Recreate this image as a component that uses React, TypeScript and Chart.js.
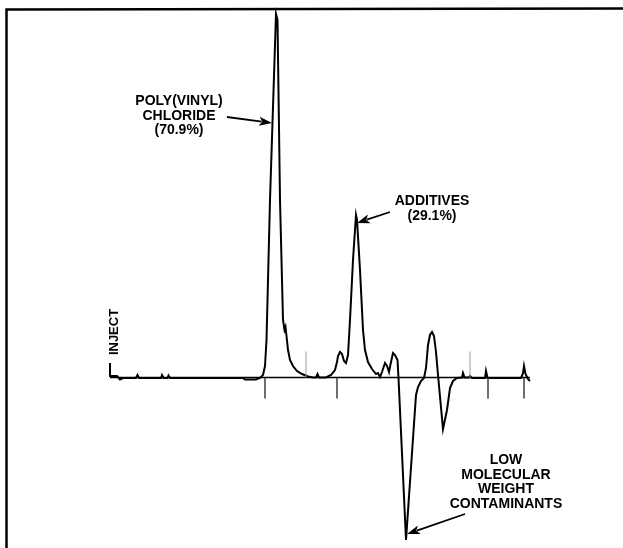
import React, { useEffect, useRef } from "react";
import { Chart, registerables } from "chart.js";

Chart.register(...registerables);

// Retention (arbitrary units, inject = 0) and detector response (arbitrary units, baseline = 0)
const traceTime = [
  0, 0, 7, 10, 13, 26, 27.5, 29, 51, 52, 53.5, 57.5, 58.5, 60, 133, 135, 146, 150, 153, 155, 156.5, 160,
  166, 167.5, 170, 173, 174.5, 175.5, 176.5, 178, 180, 183, 187, 192, 198, 203, 206, 207.5, 209, 216,
  221, 225, 227, 228, 230, 232, 234, 236, 238, 240, 243, 246, 247, 250, 253, 255, 258, 262, 266, 268,
  270, 272, 275, 277, 279, 281, 283, 285, 287.5, 288.5, 296, 306, 308, 311, 314, 316, 318, 320, 322,
  324, 326, 328, 333, 337, 340, 343, 347, 352, 353, 354.5, 359, 360, 362, 375, 376, 377.5, 411, 413,
  414, 415.5, 418, 420,
];
const traceResponse = [
  14.5, 1.5, 1.5, -2, -0.5, -0.5, 2.5, -0.5, -0.5, 2.5, -0.5, -0.5, 2, -0.5, -0.5, -2, -2, -0.5, 2.5,
  11.5, 37.5, 177.5, 363.5, 357.5, 177.5, 57.5, 47.5, 50.5, 41.5, 27.5, 17.5, 11.5, 6.5, 3.5, 1, 0, 0,
  3.5, 0, 0, 2.5, 7.5, 15.5, 21.5, 25.5, 23.5, 16.5, 14.5, 22.5, 57.5, 117.5, 162.5, 157.5, 107.5, 47.5,
  27.5, 15.5, 8.5, 3.5, 4.5, 0.5, 5.5, 14.5, 11.5, 5.5, 15.5, 24.5, 22.5, 17.5, -0.5, -162.5, -17.5,
  -9.5, -3.5, -0.5, 9.5, 32.5, 42.5, 45.5, 41.5, 25.5, 2.5, -51.5, -32.5, -10.5, -3.5, -0.5, 0, 4.5, 0,
  0, 1.5, -0.5, -0.5, 6.5, -0.5, -0.5, 4.5, 11.5, 3.5, -1.5, -3.5,
];

// Event marks below the baseline and integrator marks above it
const eventMarkTimes = [155, 227, 378, 414];
const eventMarkDepth = -21;
const sliceMarkTimes = [196, 360];
const sliceMarkHeight = 26;

// Scale extents
const timeMin = -110;
const timeMax = 513;
const respMin = -170.5;
const respMax = 377.5;

// Annotations
const labelTexts = [
  ["POLY(VINYL)", "CHLORIDE", "(70.9%)"],
  ["ADDITIVES", "(29.1%)"],
  ["LOW", "MOLECULAR", "WEIGHT", "CONTAMINANTS"],
];
const labelTimes = [69, 322, 396];
const labelResponses = [276.5, 176.5, -82.5];
const arrowFrom = [
  [117, 260.5],
  [280, 165.5],
  [355, -136.5],
];
const arrowTo = [
  [162, 254.5],
  [247, 154.5],
  [297, -156.5],
];
const injectLabel = "INJECT";
const injectTime = 4;
const injectResponse = 45.5;

const FONT = 'bold 14px "Liberation Sans", Arial, sans-serif';
const INJECT_FONT = 'bold 13px "Liberation Sans", Arial, sans-serif';

function segments(times: number[], y0: number, y1: number) {
  const pts: { x: number; y: number | null }[] = [];
  times.forEach((t) => {
    pts.push({ x: t, y: y0 });
    pts.push({ x: t, y: y1 });
    pts.push({ x: t, y: null });
  });
  return pts;
}

const decorPlugin = {
  id: "decor",
  afterDatasetsDraw(chart: any) {
    const ctx = chart.ctx as CanvasRenderingContext2D;
    const xs = chart.scales.x;
    const ys = chart.scales.y;
    ctx.save();
    // frame
    ctx.strokeStyle = "#000";
    ctx.lineWidth = 2.5;
    ctx.beginPath();
    ctx.moveTo(6.5, chart.height);
    ctx.lineTo(6.5, 9.5);
    ctx.lineTo(chart.width, 8.5);
    ctx.stroke();

    ctx.fillStyle = "#000";
    ctx.font = FONT;
    ctx.textAlign = "center";
    ctx.textBaseline = "middle";
    labelTexts.forEach((lines, i) => {
      const cx = xs.getPixelForValue(labelTimes[i]);
      const cy = ys.getPixelForValue(labelResponses[i]);
      lines.forEach((ln, j) => ctx.fillText(ln, cx, cy + j * 14.8));
    });

    // arrows
    arrowFrom.forEach((f, i) => {
      const x0 = xs.getPixelForValue(f[0]);
      const y0 = ys.getPixelForValue(f[1]);
      const x1 = xs.getPixelForValue(arrowTo[i][0]);
      const y1 = ys.getPixelForValue(arrowTo[i][1]);
      const ang = Math.atan2(y1 - y0, x1 - x0);
      const hl = 13;
      const hw = 4.5;
      ctx.lineWidth = 1.8;
      ctx.beginPath();
      ctx.moveTo(x0, y0);
      ctx.lineTo(x1 - Math.cos(ang) * hl * 0.8, y1 - Math.sin(ang) * hl * 0.8);
      ctx.stroke();
      ctx.beginPath();
      ctx.moveTo(x1, y1);
      ctx.lineTo(
        x1 - Math.cos(ang) * hl - Math.sin(ang) * hw,
        y1 - Math.sin(ang) * hl + Math.cos(ang) * hw
      );
      ctx.lineTo(x1 - Math.cos(ang) * hl * 0.75, y1 - Math.sin(ang) * hl * 0.75);
      ctx.lineTo(
        x1 - Math.cos(ang) * hl + Math.sin(ang) * hw,
        y1 - Math.sin(ang) * hl - Math.cos(ang) * hw
      );
      ctx.closePath();
      ctx.fill();
    });

    // inject label (rotated)
    const ix = xs.getPixelForValue(injectTime);
    const iy = ys.getPixelForValue(injectResponse);
    ctx.font = INJECT_FONT;
    ctx.translate(ix, iy);
    ctx.rotate(-Math.PI / 2);
    ctx.fillText(injectLabel, 0, 0);
    ctx.restore();
  },
};

export default function App() {
  const ref = useRef<HTMLCanvasElement | null>(null);
  useEffect(() => {
    if (!ref.current) return;
    const trace = traceTime.map((t, i) => ({ x: t, y: traceResponse[i] }));
    const chart = new Chart(ref.current, {
      type: "line",
      data: {
        datasets: [
          {
            data: segments(sliceMarkTimes, 0, sliceMarkHeight) as any,
            borderColor: "#9a9a9a",
            borderWidth: 1,
            pointRadius: 0,
            spanGaps: false,
          },
          {
            data: segments(eventMarkTimes, 0, eventMarkDepth) as any,
            borderColor: "#333",
            borderWidth: 1.4,
            pointRadius: 0,
            spanGaps: false,
          },
          {
            data: [
              { x: 0, y: 0 },
              { x: 420, y: 0 },
            ],
            borderColor: "#000",
            borderWidth: 1.6,
            pointRadius: 0,
          },
          {
            data: trace,
            borderColor: "#000",
            borderWidth: 2,
            pointRadius: 0,
            tension: 0,
          },
        ],
      },
      options: {
        animation: false,
        responsive: false,
        maintainAspectRatio: false,
        layout: { padding: 0 },
        plugins: { legend: { display: false }, tooltip: { enabled: false }, title: { display: false } },
        scales: {
          x: { type: "linear", min: timeMin, max: timeMax, display: false },
          y: { type: "linear", min: respMin, max: respMax, display: false },
        },
      },
      plugins: [decorPlugin],
    });
    return () => chart.destroy();
  }, []);
  return (
    <div style={{ position: "absolute", left: 0, top: 0, width: 623, height: 548, background: "#fff" }}>
      <canvas ref={ref} width={623} height={548} style={{ display: "block" }} />
    </div>
  );
}
